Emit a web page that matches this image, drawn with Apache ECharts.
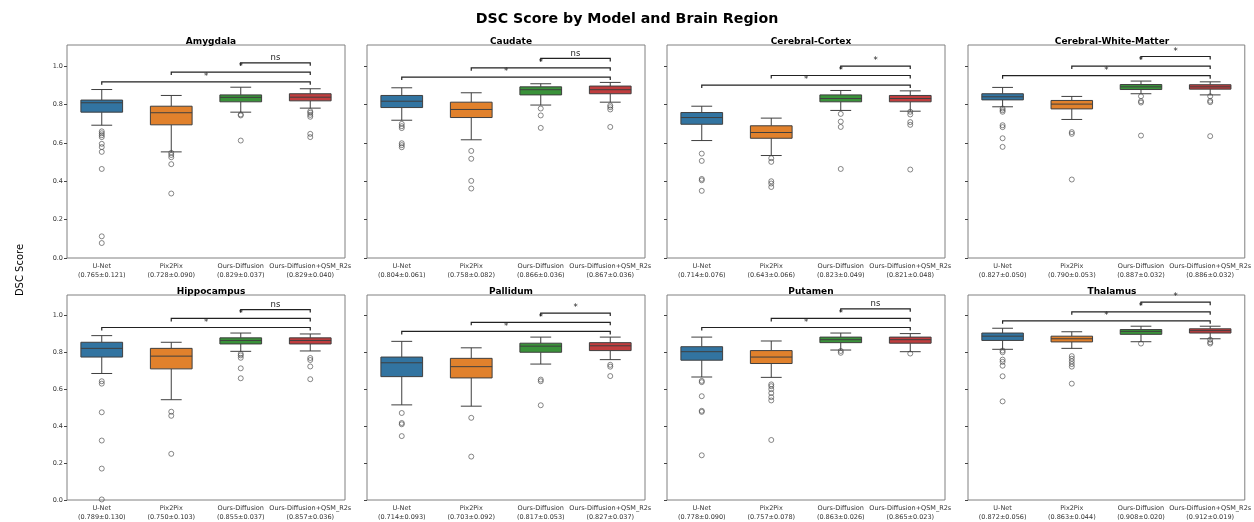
<!DOCTYPE html>
<html>
<head>
<meta charset="utf-8">
<script src="https://cdn.jsdelivr.net/npm/echarts@6/dist/echarts.min.js"></script>
<style>
  html, body { margin: 0; padding: 0; background: #fff; }
  #myChart { width: 1254px; height: 522px; }
</style>
</head>
<body>
<div id="myChart"></div>
<script>
// data
const regions = ['Amygdala', 'Caudate', 'Cerebral-Cortex', 'Cerebral-White-Matter',
                 'Hippocampus', 'Pallidum', 'Putamen', 'Thalamus'];
const models = ['U-Net', 'Pix2Pix', 'Ours-Diffusion', 'Ours-Diffusion+QSM_R2s'];
const yTicks = [0, 0.2, 0.4, 0.6, 0.8, 1.0];

const meanDSC = [
  [0.765, 0.728, 0.829, 0.829],
  [0.804, 0.758, 0.866, 0.867],
  [0.714, 0.643, 0.823, 0.821],
  [0.827, 0.790, 0.887, 0.886],
  [0.789, 0.750, 0.855, 0.857],
  [0.714, 0.703, 0.817, 0.827],
  [0.778, 0.757, 0.863, 0.865],
  [0.872, 0.863, 0.908, 0.912]
];
const stdDSC = [
  [0.121, 0.090, 0.037, 0.040],
  [0.061, 0.082, 0.036, 0.036],
  [0.076, 0.066, 0.049, 0.048],
  [0.050, 0.053, 0.032, 0.032],
  [0.130, 0.103, 0.037, 0.036],
  [0.093, 0.092, 0.053, 0.037],
  [0.090, 0.078, 0.026, 0.023],
  [0.056, 0.044, 0.020, 0.019]
];

// box stats (whisker low, Q1, median, Q3, whisker high), one row per region
const boxLow = [
  [0.692, 0.553, 0.760, 0.781],
  [0.718, 0.616, 0.797, 0.812],
  [0.612, 0.534, 0.769, 0.765],
  [0.788, 0.722, 0.856, 0.850],
  [0.685, 0.543, 0.805, 0.807],
  [0.515, 0.508, 0.736, 0.760],
  [0.666, 0.664, 0.812, 0.803],
  [0.816, 0.821, 0.857, 0.873]
];
const boxQ1 = [
  [0.760, 0.694, 0.814, 0.819],
  [0.784, 0.732, 0.850, 0.856],
  [0.697, 0.624, 0.814, 0.814],
  [0.824, 0.777, 0.878, 0.880],
  [0.774, 0.710, 0.845, 0.845],
  [0.668, 0.661, 0.800, 0.809],
  [0.757, 0.739, 0.852, 0.849],
  [0.864, 0.856, 0.897, 0.904]
];
const boxMedian = [
  [0.809, 0.757, 0.837, 0.838],
  [0.817, 0.774, 0.877, 0.877],
  [0.732, 0.654, 0.831, 0.831],
  [0.840, 0.802, 0.892, 0.892],
  [0.821, 0.779, 0.864, 0.864],
  [0.743, 0.722, 0.833, 0.835],
  [0.803, 0.774, 0.868, 0.868],
  [0.887, 0.873, 0.913, 0.917]
];
const boxQ3 = [
  [0.823, 0.791, 0.850, 0.856],
  [0.847, 0.812, 0.892, 0.896],
  [0.758, 0.689, 0.850, 0.847],
  [0.856, 0.821, 0.904, 0.903],
  [0.854, 0.821, 0.878, 0.878],
  [0.774, 0.767, 0.849, 0.852],
  [0.830, 0.809, 0.882, 0.882],
  [0.904, 0.887, 0.923, 0.927]
];
const boxHigh = [
  [0.878, 0.847, 0.890, 0.882],
  [0.887, 0.861, 0.908, 0.915],
  [0.791, 0.729, 0.873, 0.871],
  [0.889, 0.842, 0.922, 0.918],
  [0.890, 0.854, 0.904, 0.899],
  [0.859, 0.824, 0.882, 0.882],
  [0.882, 0.861, 0.904, 0.901],
  [0.930, 0.911, 0.941, 0.941]
];

// outliers per region, per model
const outliers = [
  [[0.660, 0.650, 0.640, 0.630, 0.595, 0.578, 0.553, 0.464, 0.113, 0.078],
   [0.548, 0.537, 0.525, 0.489, 0.336],
   [0.748, 0.743, 0.612],
   [0.765, 0.757, 0.746, 0.736, 0.647, 0.630]],
  [[0.699, 0.687, 0.677, 0.598, 0.588, 0.577],
   [0.558, 0.517, 0.402, 0.362],
   [0.779, 0.743, 0.678],
   [0.795, 0.786, 0.774, 0.683]],
  [[0.544, 0.506, 0.412, 0.405, 0.350],
   [0.520, 0.501, 0.400, 0.388, 0.370],
   [0.751, 0.711, 0.683, 0.464],
   [0.762, 0.748, 0.708, 0.694, 0.461]],
  [[0.779, 0.770, 0.762, 0.692, 0.682, 0.624, 0.579],
   [0.656, 0.647, 0.409],
   [0.843, 0.817, 0.810, 0.638],
   [0.843, 0.819, 0.812, 0.635]],
  [[0.643, 0.630, 0.475, 0.322, 0.170, 0.003],
   [0.478, 0.456, 0.250],
   [0.791, 0.783, 0.770, 0.713, 0.659],
   [0.769, 0.758, 0.723, 0.654]],
  [[0.471, 0.417, 0.410, 0.346],
   [0.445, 0.235],
   [0.652, 0.643, 0.513],
   [0.732, 0.722, 0.671]],
  [[0.645, 0.638, 0.562, 0.483, 0.477, 0.242],
   [0.626, 0.616, 0.600, 0.579, 0.557, 0.539, 0.325],
   [0.807, 0.797],
   [0.793]],
  [[0.809, 0.800, 0.760, 0.748, 0.727, 0.670, 0.534],
   [0.779, 0.765, 0.751, 0.736, 0.722, 0.630],
   [0.847],
   [0.868, 0.854, 0.847]]
];

// significance brackets: pairs, heights, labels
const bracketPairs = [[0, 3], [1, 3], [2, 3]];
const bracketHeights = [
  [0.918, 0.969, 1.017],
  [0.943, 0.991, 1.040],
  [0.901, 0.951, 1.000],
  [0.950, 1.000, 1.050],
  [0.934, 0.983, 1.031],
  [0.913, 0.962, 1.012],
  [0.934, 0.983, 1.035],
  [0.970, 1.019, 1.071]
];
const bracketLabels = [
  ['*', '*', 'ns'],
  ['*', '*', 'ns'],
  ['*', '*', '*'],
  ['*', '*', '*'],
  ['*', '*', 'ns'],
  ['*', '*', '*'],
  ['*', '*', 'ns'],
  ['*', '*', '*']
];

const palette = ['#3274a1', '#e1812c', '#3a923a', '#c03d3e'];
const lineColor = '#3f3f3f';
const font = 'DejaVu Sans';

const myChart = echarts.init(document.getElementById('myChart'));

const gridLefts = [67, 367, 667, 968];
const gridTops = [45, 295];
const gridW = 278;
const gridH = 213;

function renderBox(params, api) {
  const c = api.value(0);
  const lo = api.coord([c, api.value(1)]);
  const b1 = api.coord([c, api.value(2)]);
  const md = api.coord([c, api.value(3)]);
  const b3 = api.coord([c, api.value(4)]);
  const hi = api.coord([c, api.value(5)]);
  const band = api.size([1, 0])[0];
  const w = band * 0.6;
  const cw = w / 4;
  const x = lo[0];
  const ls = { stroke: lineColor, lineWidth: 1 };
  return {
    type: 'group',
    children: [
      { type: 'line', shape: { x1: x, y1: b1[1], x2: x, y2: lo[1] }, style: ls },
      { type: 'line', shape: { x1: x, y1: b3[1], x2: x, y2: hi[1] }, style: ls },
      { type: 'line', shape: { x1: x - cw, y1: lo[1], x2: x + cw, y2: lo[1] }, style: ls },
      { type: 'line', shape: { x1: x - cw, y1: hi[1], x2: x + cw, y2: hi[1] }, style: ls },
      { type: 'rect', shape: { x: x - w / 2, y: b3[1], width: w, height: b1[1] - b3[1] },
        style: { fill: palette[c], stroke: lineColor, lineWidth: 1 } },
      { type: 'line', shape: { x1: x - w / 2, y1: md[1], x2: x + w / 2, y2: md[1] }, style: ls }
    ]
  };
}

function makeBracketRenderer(r) {
  return function (params, api) {
    const a = api.coord([api.value(0), api.value(2)]);
    const b = api.coord([api.value(1), api.value(2)]);
    const y = a[1];
    return {
      type: 'group',
      children: [
        { type: 'polyline',
          shape: { points: [[a[0], y + 3], [a[0], y], [b[0], y], [b[0], y + 3]] },
          style: { stroke: '#222', lineWidth: 1.2, fill: null } },
        { type: 'text',
          x: (a[0] + b[0]) / 2, y: y - 0.5,
          style: { text: bracketLabels[r][params.dataIndex], fill: '#222',
                   font: '8.5px "DejaVu Sans"', textAlign: 'center', textVerticalAlign: 'bottom' } }
      ]
    };
  };
}

const grid = [], xAxis = [], yAxis = [], series = [];
const titles = [{
  text: 'DSC Score by Model and Brain Region',
  left: 'center', top: 7,
  textStyle: { fontFamily: font, fontSize: 14.2, fontWeight: 'bold', color: '#000' }
}];

regions.forEach(function (name, r) {
  const col = r % 4, row = Math.floor(r / 4);
  grid.push({
    left: gridLefts[col], top: gridTops[row], width: gridW, height: gridH,
    show: true, borderColor: '#808080', borderWidth: 1, backgroundColor: 'transparent'
  });
  titles.push({
    text: name,
    left: gridLefts[col] + gridW / 2, top: gridTops[row] - 13, textAlign: 'center',
    textStyle: { fontFamily: font, fontSize: 9, fontWeight: 'bold', color: '#000' }
  });
  xAxis.push({
    type: 'category', gridIndex: r, data: models,
    axisLine: { show: false },
    axisTick: { alignWithLabel: true, length: 3, lineStyle: { color: '#444' } },
    axisLabel: {
      interval: 0, fontFamily: font, fontSize: 6.5, lineHeight: 9, color: '#333', margin: 4,
      formatter: function (v, i) {
        return v + '\n(' + meanDSC[r][i].toFixed(3) + '±' + stdDSC[r][i].toFixed(3) + ')';
      }
    }
  });
  yAxis.push({
    type: 'value', gridIndex: r, min: 0, max: 1.11, interval: 0.2,
    splitLine: { show: false },
    axisLine: { show: false },
    axisTick: { show: true, length: 3, customValues: yTicks, lineStyle: { color: '#444' } },
    axisLabel: {
      show: col === 0, customValues: yTicks, fontFamily: font, fontSize: 6.5, color: '#333', margin: 4,
      formatter: function (v) { return v.toFixed(1); }
    }
  });

  const boxData = models.map(function (m, i) {
    return [i, boxLow[r][i], boxQ1[r][i], boxMedian[r][i], boxQ3[r][i], boxHigh[r][i]];
  });
  series.push({
    type: 'custom', xAxisIndex: r, yAxisIndex: r,
    renderItem: renderBox,
    encode: { x: 0, y: [1, 2, 3, 4, 5] },
    data: boxData, silent: true
  });

  const outData = [];
  outliers[r].forEach(function (vals, i) {
    vals.forEach(function (v) { outData.push([i, v]); });
  });
  series.push({
    type: 'scatter', xAxisIndex: r, yAxisIndex: r,
    symbol: 'circle', symbolSize: 5,
    itemStyle: { color: 'transparent', borderColor: '#444', borderWidth: 0.8 },
    data: outData, silent: true
  });

  const brData = bracketPairs.map(function (p, k) {
    return [p[0], p[1], bracketHeights[r][k]];
  });
  series.push({
    type: 'custom', xAxisIndex: r, yAxisIndex: r,
    renderItem: makeBracketRenderer(r),
    encode: { x: [0, 1], y: 2 },
    data: brData, silent: true, clip: false
  });
});

const option = {
  animation: false,
  backgroundColor: '#fff',
  textStyle: { fontFamily: font },
  title: titles,
  grid: grid,
  xAxis: xAxis,
  yAxis: yAxis,
  series: series,
  graphic: [{
    type: 'text', x: 20, y: 270, rotation: Math.PI / 2,
    style: { text: 'DSC Score', font: '10px "DejaVu Sans"', fill: '#000',
             textAlign: 'center', textVerticalAlign: 'middle' }
  }]
};

myChart.setOption(option);
</script>
</body>
</html>
